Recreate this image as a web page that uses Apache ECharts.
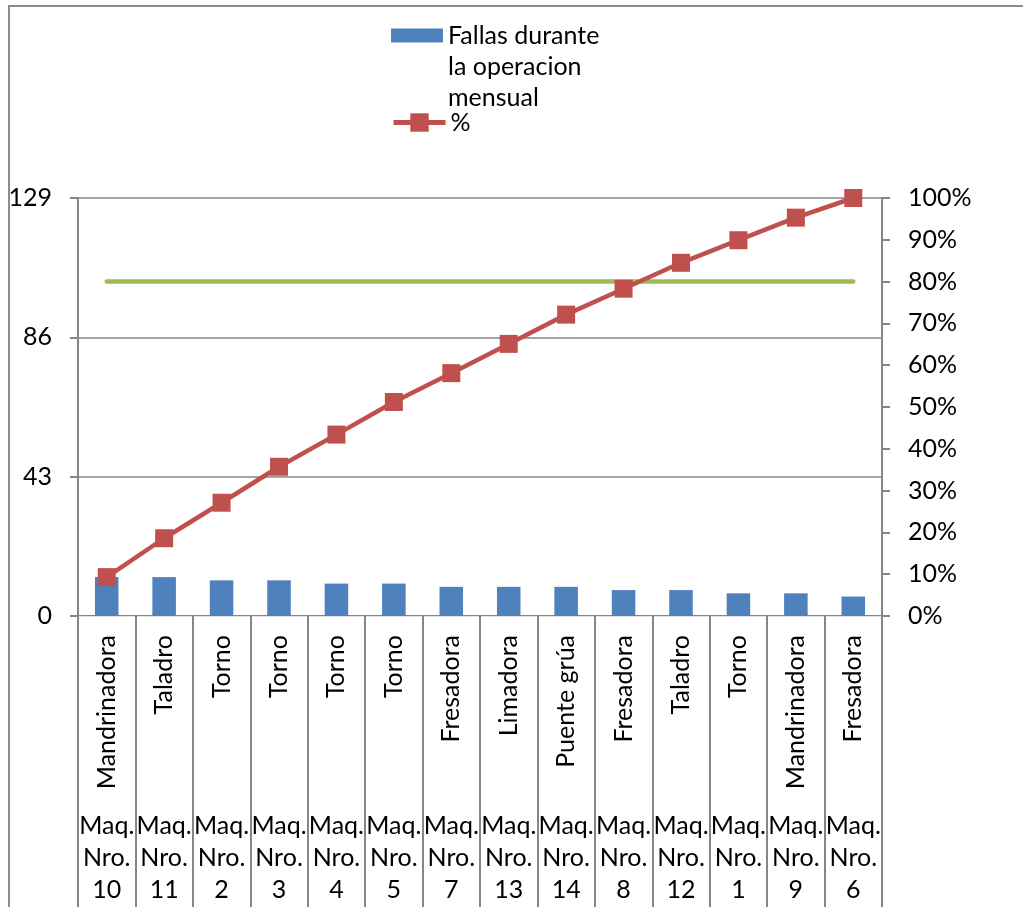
<!DOCTYPE html>
<html>
<head>
<meta charset="utf-8">
<script src="https://cdn.jsdelivr.net/npm/echarts@6/dist/echarts.min.js"></script>
<style>
  html, body { margin: 0; padding: 0; background: #fff; }
  #frame { position: absolute; left: 8px; top: 5px; width: 1100px; height: 1000px;
           border-left: 2px solid #8c8c8c; border-top: 2px solid #8c8c8c; box-sizing: border-box; }
  #chart { position: absolute; left: 0; top: 0; width: 1023px; height: 907px; }
</style>
</head>
<body>
<div id="frame"></div>
<div id="chart"></div>
<script>
const machineTypes = ["Mandrinadora", "Taladro", "Torno", "Torno", "Torno", "Torno", "Fresadora",
  "Limadora", "Puente grúa", "Fresadora", "Taladro", "Torno", "Mandrinadora", "Fresadora"];
const machineIds = ["Maq. Nro. 10", "Maq. Nro. 11", "Maq. Nro. 2", "Maq. Nro. 3", "Maq. Nro. 4",
  "Maq. Nro. 5", "Maq. Nro. 7", "Maq. Nro. 13", "Maq. Nro. 14", "Maq. Nro. 8", "Maq. Nro. 12",
  "Maq. Nro. 1", "Maq. Nro. 9", "Maq. Nro. 6"];
const fallas = [12, 12, 11, 11, 10, 10, 9, 9, 9, 8, 8, 7, 7, 6];
const acumuladoPct = [9.3, 18.6, 27.1, 35.7, 43.4, 51.2, 58.1, 65.1, 72.1, 78.3, 84.5, 89.9, 95.3, 100];
const meta = [80, 80, 80, 80, 80, 80, 80, 80, 80, 80, 80, 80, 80, 80];
const leftTicks = { min: 0, max: 129, interval: 43 };
const rightTicks = { min: 0, max: 100, interval: 10 };

const FONT = 'Lato';
const FS = 25;
const GREY = '#868686';

const chart = echarts.init(document.getElementById('chart'));
chart.setOption({
  animation: false,
  textStyle: { fontFamily: FONT, color: '#000' },
  legend: [
    {
      data: ['Fallas durante la operacion mensual'],
      left: 391, top: 20, padding: 0,
      itemWidth: 52, itemHeight: 76,
      icon: 'path://M0,0L52,0L52,14L0,14Z M0,76L52,76',
      textStyle: { fontFamily: FONT, fontSize: FS, color: '#000', width: 165, overflow: 'break',
                   lineHeight: 31 }
    },
    {
      data: ['%'],
      left: 391, top: 110, padding: 0,
      itemWidth: 52, itemHeight: 23,
      lineStyle: { width: 5 },
      textStyle: { fontFamily: FONT, fontSize: FS, color: '#000' }
    }
  ],
  grid: { left: 78, right: 141, top: 198, bottom: 291, containLabel: false },
  xAxis: [
    {
      type: 'category',
      data: machineTypes,
      position: 'bottom',
      axisLine: { show: true, lineStyle: { color: GREY, width: 2 } },
      axisTick: { show: true, interval: 0, length: 300, lineStyle: { color: GREY, width: 2 } },
      axisLabel: { interval: 0, rotate: 90, margin: 19, fontSize: FS, color: '#000', fontFamily: FONT }
    },
    {
      type: 'category',
      data: machineIds,
      position: 'bottom',
      offset: 176,
      axisLine: { show: true, lineStyle: { color: '#e3e3e3', width: 1 } },
      axisTick: { show: false },
      axisLabel: { interval: 0, margin: 18, fontSize: FS, lineHeight: 32, color: '#000', fontFamily: FONT,
                   formatter: v => v.split(' ').join('\n') }
    }
  ],
  yAxis: [
    {
      type: 'value',
      min: leftTicks.min, max: leftTicks.max, interval: leftTicks.interval,
      axisLine: { show: true, lineStyle: { color: GREY, width: 2 } },
      axisTick: { show: true, length: 8, lineStyle: { color: GREY, width: 2 } },
      splitLine: { show: true, lineStyle: { color: GREY, width: 1.5 } },
      axisLabel: { margin: 26, fontSize: FS, color: '#000', fontFamily: FONT }
    },
    {
      type: 'value',
      position: 'right',
      min: rightTicks.min, max: rightTicks.max, interval: rightTicks.interval,
      axisLine: { show: true, lineStyle: { color: GREY, width: 2 } },
      axisTick: { show: true, length: 8, lineStyle: { color: GREY, width: 2 } },
      splitLine: { show: false },
      axisLabel: { margin: 26, fontSize: FS, color: '#000', fontFamily: FONT, formatter: '{value}%' }
    }
  ],
  series: [
    {
      name: 'Fallas durante la operacion mensual',
      type: 'bar',
      data: fallas,
      barWidth: '41%',
      itemStyle: { color: '#4f81bd' },
      z: 2
    },
    {
      name: 'Meta',
      type: 'line',
      yAxisIndex: 1,
      data: meta,
      symbol: 'none',
      lineStyle: { color: '#9bbb59', width: 4.5, cap: 'round' },
      itemStyle: { color: '#9bbb59' },
      z: 3
    },
    {
      name: '%',
      type: 'line',
      yAxisIndex: 1,
      data: acumuladoPct,
      symbol: 'rect',
      symbolSize: 18,
      lineStyle: { color: '#c0504d', width: 4.5 },
      itemStyle: { color: '#c0504d' },
      z: 4
    }
  ]
});
</script>
</body>
</html>
